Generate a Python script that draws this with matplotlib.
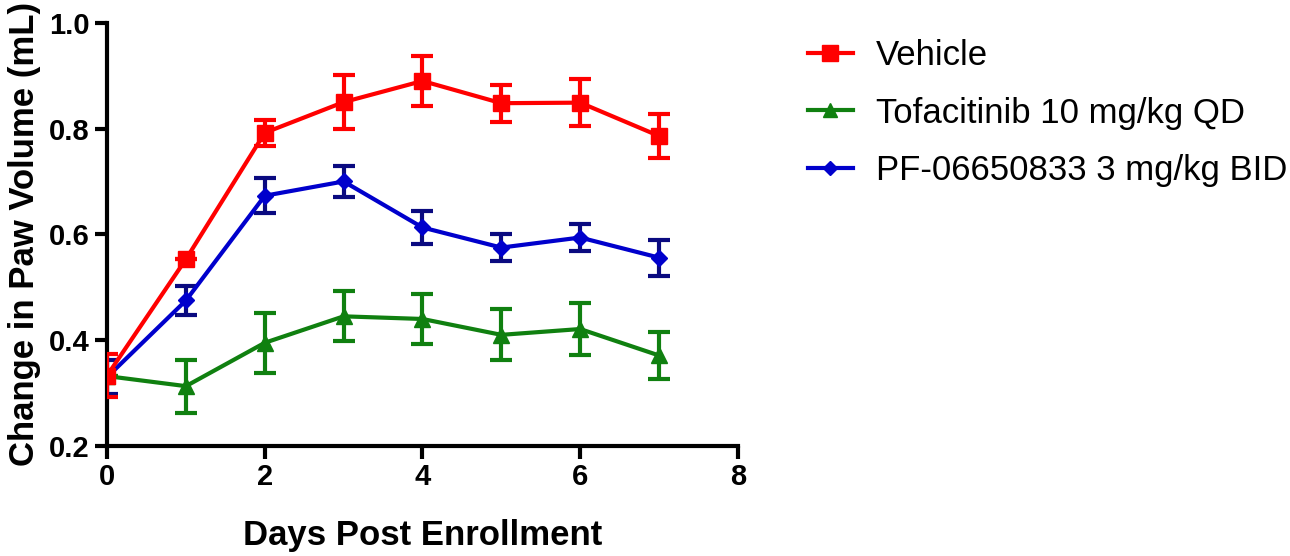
import matplotlib
matplotlib.use("Agg")
import matplotlib.pyplot as plt
from matplotlib.lines import Line2D

days = [0, 1, 2, 3, 4, 5, 6, 7]
vehicle = [0.333, 0.553, 0.792, 0.850, 0.890, 0.848, 0.849, 0.786]
vehicle_err = [0.040, 0.0, 0.025, 0.051, 0.048, 0.035, 0.045, 0.042]
tofa = [0.332, 0.313, 0.395, 0.445, 0.440, 0.410, 0.421, 0.371]
tofa_err = [0.0, 0.050, 0.057, 0.047, 0.047, 0.048, 0.049, 0.044]
pf = [0.330, 0.475, 0.673, 0.700, 0.613, 0.575, 0.594, 0.556]
pf_err = [0.032, 0.027, 0.033, 0.030, 0.032, 0.025, 0.026, 0.034]

labels = ["Vehicle", "Tofacitinib 10 mg/kg QD", "PF-06650833 3 mg/kg BID"]
xticks = [0, 2, 4, 6, 8]
yticks = [0.2, 0.4, 0.6, 0.8, 1.0]

plt.rcParams['font.family'] = ['Liberation Sans', 'DejaVu Sans']

fig = plt.figure(figsize=(12.9, 5.56), dpi=100)
ax = fig.add_axes([0.083, 0.198, 0.489, 0.761])

green, blue, navy, red = '#108010', '#0000CC', '#0A0A80', '#FF0000'

ax.errorbar(days, tofa, yerr=tofa_err, color=green, ecolor=green, lw=3,
            marker='^', ms=11, elinewidth=3, capsize=8, capthick=3, zorder=2)
ax.errorbar(days, pf, yerr=pf_err, color=blue, ecolor=navy, lw=3,
            marker='D', ms=8, elinewidth=3, capsize=8, capthick=3, zorder=3)
ax.errorbar(days, vehicle, yerr=vehicle_err, color=red, ecolor=red, lw=3,
            marker='s', ms=12, elinewidth=3, capsize=8, capthick=3, zorder=4)

ax.set_xlim(0, 8)
ax.set_ylim(0.2, 1.0)
ax.set_xticks(xticks)
ax.set_yticks(yticks)
ax.set_yticklabels([f"{v:.1f}" for v in yticks])
for s in ['top', 'right']:
    ax.spines[s].set_visible(False)
for s in ['left', 'bottom']:
    ax.spines[s].set_linewidth(3)
ax.tick_params(axis='both', width=3, length=9, labelsize=21, direction='out')
for lab in ax.get_xticklabels() + ax.get_yticklabels():
    lab.set_fontweight('bold')
ax.set_xlabel("Days Post Enrollment", fontsize=25, fontweight='bold', labelpad=20)
ax.set_ylabel("Change in Paw Volume (mL)", fontsize=25, fontweight='bold', labelpad=6)

handles = [
    Line2D([], [], color=red, lw=3, marker='s', ms=11),
    Line2D([], [], color=green, lw=3, marker='^', ms=10),
    Line2D([], [], color=blue, lw=3, marker='D', ms=7),
]
fig.legend(handles, labels, loc='upper left', bbox_to_anchor=(0.626, 0.93),
           frameon=False, fontsize=25, handlelength=1.3, handletextpad=0.68,
           labelspacing=0.71, borderpad=0, borderaxespad=0)

fig.savefig("out.png", dpi=100)
